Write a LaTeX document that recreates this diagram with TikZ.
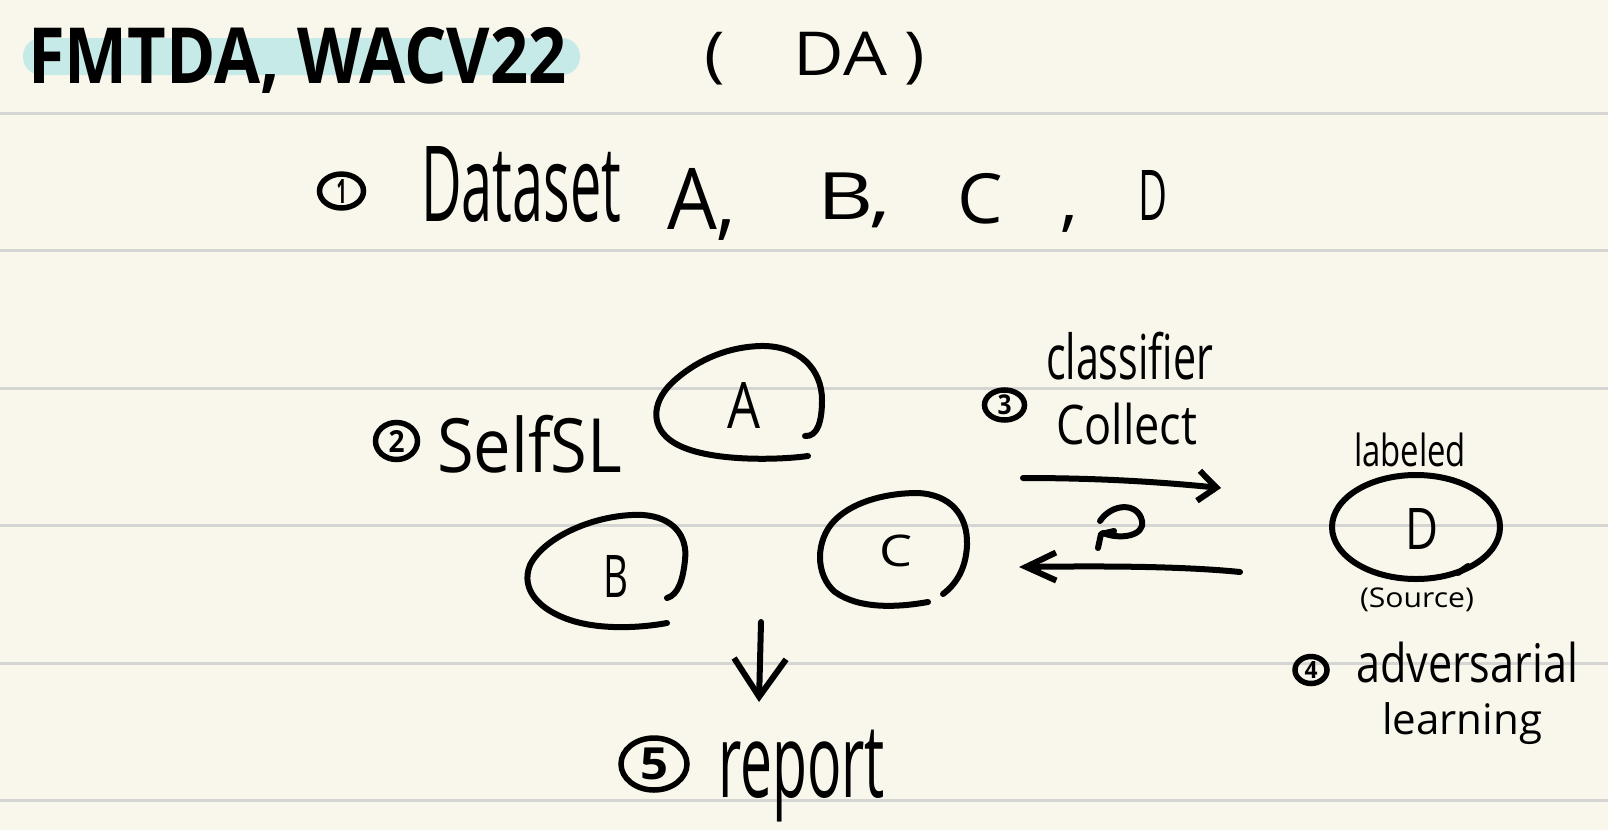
\documentclass[tikz,border=0pt]{standalone}
\usepackage{fontspec}
\setmainfont{Open Sans}
\usetikzlibrary{arrows.meta,shapes.geometric}
\definecolor{paper}{HTML}{F9F7EB}
\definecolor{rulegray}{HTML}{D5D5D3}
\definecolor{hilite}{HTML}{C6EAE7}
\newcommand\hw[3]{\resizebox*{#1pt}{#2pt}{#3}}
\begin{document}
\begin{tikzpicture}[x=1pt,y=-1pt,
  txt/.style={anchor=north west,inner sep=0pt,outer sep=0pt},
  circ/.style={draw,ellipse,line width=5.5pt,inner sep=0pt,outer sep=0pt,font=\bfseries},
  stroke/.style={line width=6pt,line cap=round,line join=round},
  ruleline/.style={rulegray,line width=3pt},
]
\fill[paper] (0,0) rectangle (1608,830);
\useasboundingbox (0,0) rectangle (1608,830);
\foreach \y in {113,250,388,525,663,800} \draw[ruleline] (0,\y) -- (1608,\y);
\fill[hilite,rounded corners=18pt] (23,38) rectangle (580,75);
% title
\node[txt] (title) at (28,27) {\hw{538}{66}{\bfseries FMTDA, WACV22}};
\node[txt] (da) at (704,32) {\hw{221}{53}{(\hspace{1em}DA\hspace{0.25em})}};
% line 1
\node[circ,minimum width=44pt,minimum height=33pt] (n1) at (341.5,191) {\hw{10}{24}{1}};
\node[txt] (dataset) at (421,147) {\hw{200}{76}{Dataset}};
\node[txt] (dsA) at (667,168) {\hw{69}{72}{A,}};
\node[txt] (dsB) at (817,173) {\hw{74}{55}{B,}};
\node[txt] (dsC) at (957,173) {\hw{121}{59}{C\hspace{0.8em},}};
\node[txt] (dsD) at (1138,170) {\hw{29}{50}{D}};
% selfsl
\node[circ,minimum width=42pt,minimum height=37pt] (n2) at (396.5,441) {\hw{16}{22}{2}};
\node[txt] (selfsl) at (437,415) {\hw{185}{58}{SelfSL}};
% ellipse letters
\node[txt] (A) at (727,382) {\hw{33}{46}{A}};
\node[txt] (B) at (603,555) {\hw{25}{42}{B}};
\node[txt] (C) at (879,535) {\hw{33}{32}{C}};
\node[txt] (D) at (1405,508) {\hw{33}{41}{D}};
% step 3
\node[circ,minimum width=40pt,minimum height=30pt] (n3) at (1004.5,405) {\hw{14}{20}{3}};
\node[txt] (classifier) at (1046,332) {\hw{167}{48}{classifier}};
\node[txt] (collect) at (1056,403) {\hw{141}{42}{Collect}};
% D labels
\node[txt] (labeled) at (1354,433) {\hw{112}{34}{labeled}};
\node[txt] (source) at (1360,588) {\hw{114}{24}{(Source)}};
% step 4
\node[circ,minimum width=32pt,minimum height=27pt] (n4) at (1311,670) {\hw{13}{17}{4}};
\node[txt] (adv) at (1356,642) {\hw{222}{41}{adversarial}};
\node[txt] (learning) at (1382,703) {\hw{160}{42}{learning}};
% step 5
\node[circ,minimum width=66pt,minimum height=52pt] (n5) at (654,764) {\hw{28}{32}{5}};
\node[txt] (report) at (718,730) {\hw{167}{92}{report}};
% hand-drawn ellipses
\draw[stroke] (808,456) .. controls (780,460) and (700,463) .. (670,440)
  .. controls (650,425) and (652,400) .. (675,380)
  .. controls (700,358) and (730,347) .. (760,346)
  .. controls (800,345) and (822,370) .. (822,400)
  .. controls (822,420) and (818,437) .. (805,436);
\draw[stroke] (667,623) .. controls (640,628) and (600,630) .. (570,620)
  .. controls (540,610) and (520,590) .. (530,565)
  .. controls (545,535) and (600,513) .. (643,515)
  .. controls (672,517) and (688,535) .. (685,560)
  .. controls (683,580) and (678,595) .. (667,598);
\draw[stroke] (928,602) .. controls (900,607) and (860,610) .. (835,592)
  .. controls (815,575) and (815,540) .. (835,520)
  .. controls (855,500) and (890,493) .. (917,493)
  .. controls (950,494) and (968,515) .. (967,545)
  .. controls (966,570) and (955,585) .. (943,594);
\draw[stroke] (1416,527) ellipse [x radius=84pt, y radius=52pt];
\draw[stroke] (1458,573) -- (1468,566);
% loop symbol
\draw[stroke] (1100,521) .. controls (1112,503) and (1138,502) .. (1142,521)
  .. controls (1145,536) and (1120,540) .. (1103,533);
\draw[stroke] (1114,531) -- (1101,534) -- (1098,548);
% connectors
\coordinate (r1) at (1023,478); \coordinate (r2) at (1221,488);
\draw[stroke,-{Straight Barb[length=18pt,width=30pt]}] (r1) .. controls (1100,478) and (1160,482) .. (r2);
\coordinate (l1) at (1240,572); \coordinate (l2) at (1019,567);
\draw[stroke,-{Straight Barb[length=30pt,width=28pt]}] (l1) .. controls (1180,566) and (1100,566) .. (l2);
\coordinate (d1) at (761,622); \coordinate (d2) at (759,702);
\draw[stroke,-{Straight Barb[length=38pt,width=52pt]}] (d1) -- (d2);
\end{tikzpicture}
\end{document}
